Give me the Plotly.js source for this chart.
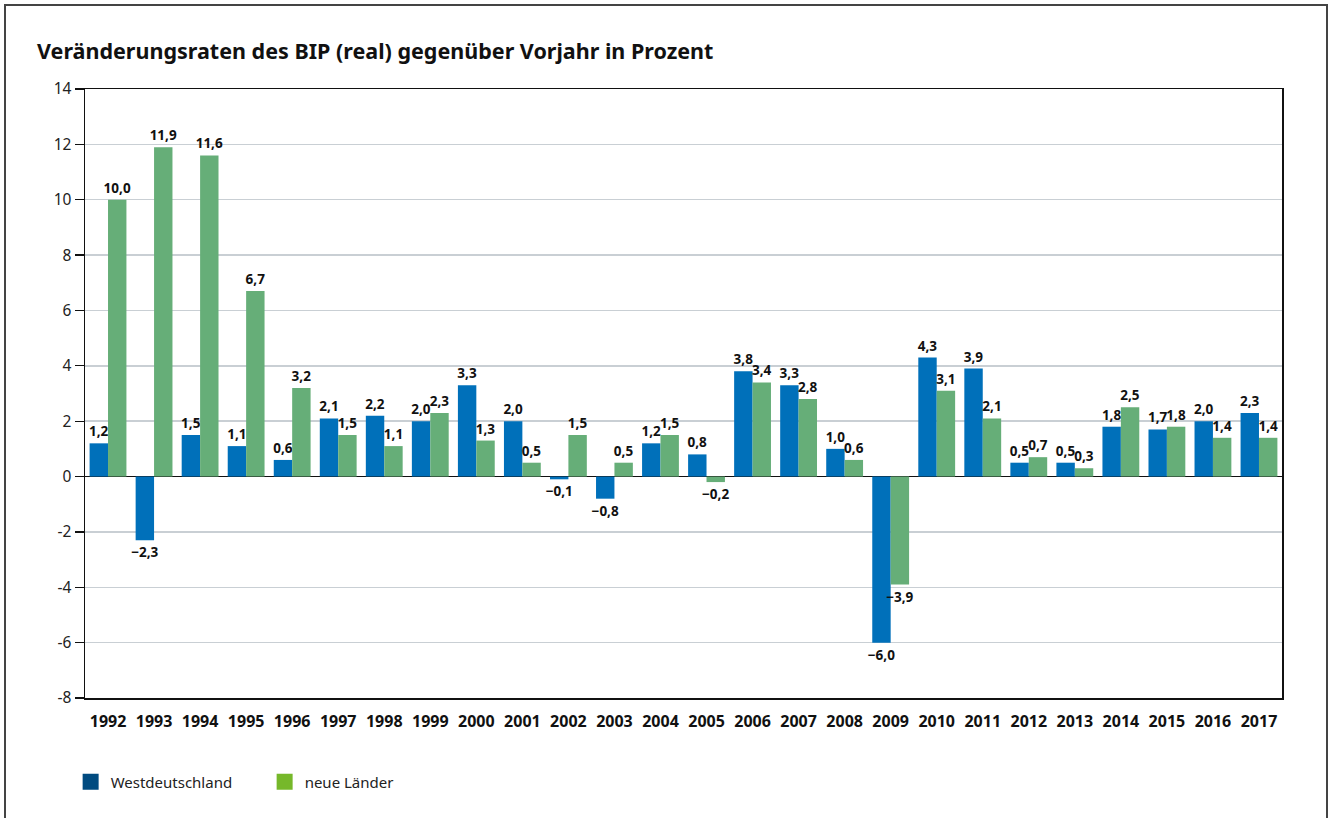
<!DOCTYPE html>
<html>
<head>
<meta charset="utf-8">
<script src="https://cdn.plot.ly/plotly-3.0.1.min.js"></script>
<style>
  html, body { margin: 0; padding: 0; background: #fff; }
  #chart { width: 1335px; height: 818px; }
</style>
</head>
<body>
<div id="chart"></div>
<script>
const years = ['1992','1993','1994','1995','1996','1997','1998','1999','2000','2001','2002','2003','2004','2005','2006','2007','2008','2009','2010','2011','2012','2013','2014','2015','2016','2017'];
const west = [1.2, -2.3, 1.5, 1.1, 0.6, 2.1, 2.2, 2.0, 3.3, 2.0, -0.1, -0.8, 1.2, 0.8, 3.8, 3.3, 1.0, -6.0, 4.3, 3.9, 0.5, 0.5, 1.8, 1.7, 2.0, 2.3];
const neue = [10.0, 11.9, 11.6, 6.7, 3.2, 1.5, 1.1, 2.3, 1.3, 0.5, 1.5, 0.5, 1.5, -0.2, 3.4, 2.8, 0.6, -3.9, 3.1, 2.1, 0.7, 0.3, 2.5, 1.8, 1.4, 1.4];
const seriesNames = ['Westdeutschland', 'neue Länder'];
const yTicks = [-8, -6, -4, -2, 0, 2, 4, 6, 8, 10, 12, 14];

const fmt = v => (v < 0 ? '\u2212' : '') + Math.abs(v).toFixed(1).replace('.', ',');
const FONT = 'Noto Sans, Open Sans, sans-serif';

const barColors = ['#0070ba', '#66ae78'];
const legendColors = ['#004b80', '#76b82a'];

const labelFont = { family: FONT, size: 13.5, color: '#111', weight: 'bold' };

const traces = [
  {
    type: 'bar', x: years, y: west, name: seriesNames[0], showlegend: false,
    marker: { color: barColors[0], line: { width: 0 } },
    text: west.map(fmt), textposition: 'outside', cliponaxis: false,
    constraintext: 'none', textfont: labelFont, hoverinfo: 'x+y'
  },
  {
    type: 'bar', x: years, y: neue, name: seriesNames[1], showlegend: false,
    marker: { color: barColors[1], line: { width: 0 } },
    text: neue.map(fmt), textposition: 'outside', cliponaxis: false,
    constraintext: 'none', textfont: labelFont, hoverinfo: 'x+y'
  },
  {
    type: 'scatter', mode: 'markers', x: [null], y: [null], name: seriesNames[0],
    marker: { symbol: 'square', size: 16, color: legendColors[0] }
  },
  {
    type: 'scatter', mode: 'markers', x: [null], y: [null], name: seriesNames[1],
    marker: { symbol: 'square', size: 16, color: legendColors[1] }
  }
];

const layout = {
  width: 1335, height: 818,
  margin: { l: 85, r: 53, t: 89, b: 120 },
  paper_bgcolor: '#fff', plot_bgcolor: '#fff',
  font: { family: FONT, size: 15, color: '#222' },
  title: {
    text: 'Veränderungsraten des BIP (real) gegenüber Vorjahr in Prozent',
    font: { family: FONT, size: 21.5, color: '#111', weight: 'bold' },
    x: 37 / 1335, xref: 'container', xanchor: 'left',
    y: 1 - 51 / 818, yref: 'container', yanchor: 'middle'
  },
  barmode: 'group', bargap: 0.2, bargroupgap: 0,
  xaxis: {
    type: 'category', showgrid: false, ticks: '',
    showline: true, linecolor: '#111', linewidth: 1.5, mirror: true,
    tickfont: { family: FONT, size: 16, color: '#111', weight: 'bold' },
    ticklabelstandoff: 8,
    fixedrange: true
  },
  yaxis: {
    range: [-8, 14], tickvals: yTicks, ticktext: yTicks.map(String),
    showgrid: true, gridcolor: '#c9cfd4', gridwidth: 1.5,
    zeroline: true, zerolinecolor: '#111', zerolinewidth: 1.5,
    showline: true, linecolor: '#111', linewidth: 1.5, mirror: true,
    ticks: 'outside', ticklen: 9, tickcolor: '#111', tickwidth: 1.2,
    tickfont: { family: FONT, size: 15.5, color: '#222' },
    fixedrange: true
  },
  legend: {
    orientation: 'h', x: -0.012, xanchor: 'left', y: -0.138, yanchor: 'middle',
    font: { family: FONT, size: 15, color: '#222' },
    entrywidth: 149, entrywidthmode: 'pixels', itemclick: false, itemdoubleclick: false
  },
  shapes: [{
    type: 'rect', xref: 'paper', yref: 'paper', layer: 'below',
    x0: (5 - 85) / 1197, x1: (1327 - 85) / 1197,
    y0: (698 - 840) / 609, y1: (698 - 5) / 609,
    line: { color: '#444', width: 2 }, fillcolor: 'rgba(0,0,0,0)'
  }]
};

Plotly.newPlot('chart', traces, layout, { displayModeBar: false, staticPlot: true });
</script>
</body>
</html>
